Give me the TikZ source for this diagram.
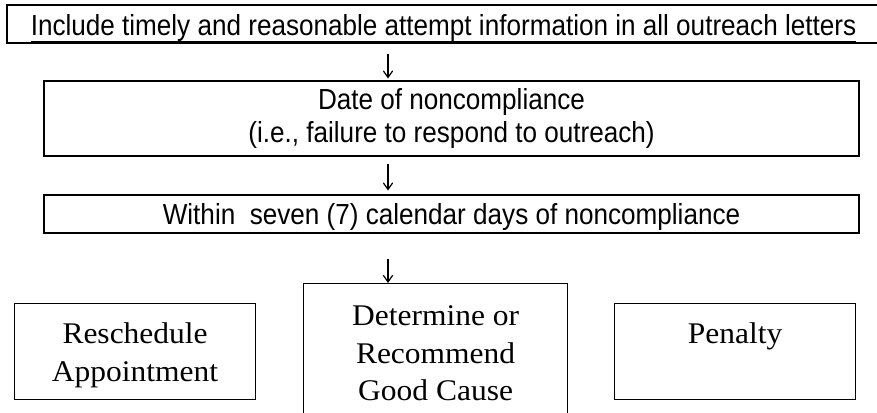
\documentclass[tikz,border=0pt]{standalone}
\usepackage{fontspec}
\setmainfont{Liberation Sans}
\newfontfamily\tnr{Liberation Serif}
\usetikzlibrary{arrows.meta}
\newsavebox\ulbox
\newcommand\thickul[1]{\sbox\ulbox{#1}\rlap{\rule[-6pt]{\wd\ulbox}{2.25pt}}\usebox\ulbox}
\newcommand\sq[1]{\scalebox{0.9}[1]{#1}}
\newcommand\sw[1]{\scalebox{1.05}[1]{#1}}
\tikzset{
  topbox/.style={draw, line width=1.5pt, inner sep=0pt, text height=18pt, text depth=0pt,
    font=\fontsize{21.75}{24.75}\selectfont},
  midbox/.style={draw, line width=2.2pt, inner sep=0pt,
    font=\fontsize{21.75}{24.75}\selectfont, align=center},
  lowbox/.style={draw, line width=0.9pt, inner sep=0pt, anchor=north west,
    font=\tnr\fontsize{22.5}{28.1}\selectfont},
  arr/.style={line width=0.9pt, -{Straight Barb[length=5pt,width=7pt]}}
}
\begin{document}
\begin{tikzpicture}[x=0.75pt,y=-0.75pt]
\useasboundingbox (0,0) rectangle (877,413);
\clip (0,0) rectangle (877,413);
\node[topbox, minimum width=654.75pt, minimum height=28.5pt] (t1) at (443.5,24)
  {\sq{\thickul{Include timely and reasonable attempt information in all outreach letters}}};
\node[midbox, minimum width=611.25pt, minimum height=56.25pt] (b2) at (451.5,118.5)
  {\sq{Date of noncompliance}\\\sq{(i.e., failure to respond to outreach)}};
\node[midbox, minimum width=611.25pt, minimum height=28.5pt, text height=15.75pt, text depth=0pt] (b3) at (451.5,214)
  {\sq{Within\ \ seven (7) calendar days of noncompliance}};
\node[lowbox] (r) at (14,303)
  {\parbox[c][72pt][t]{180.75pt}{\centering\rule{0pt}{30pt}\sw{Reschedule}\\\sw{Appointment}}};
\node[lowbox] (g) at (303,283)
  {\parbox[c][102.75pt][t]{198pt}{\centering\rule{0pt}{31.5pt}\sw{Determine or}\\\sw{Recommend}\\\sw{Good Cause}}};
\node[lowbox] (p) at (614,303)
  {\parbox[c][72pt][t]{180.75pt}{\centering\rule{0pt}{30pt}\sw{Penalty}}};
\coordinate (ax) at (388,0);
\draw[arr, shorten <=7.5pt, shorten >=0.75pt] (t1.south -| ax) -- (b2.north -| ax);
\draw[arr, shorten <=5.25pt, shorten >=2.25pt] (b2.south -| ax) -- (b3.north -| ax);
\draw[arr, shorten <=18.75pt] (b3.south -| ax) -- (g.north -| ax);
\end{tikzpicture}
\end{document}
